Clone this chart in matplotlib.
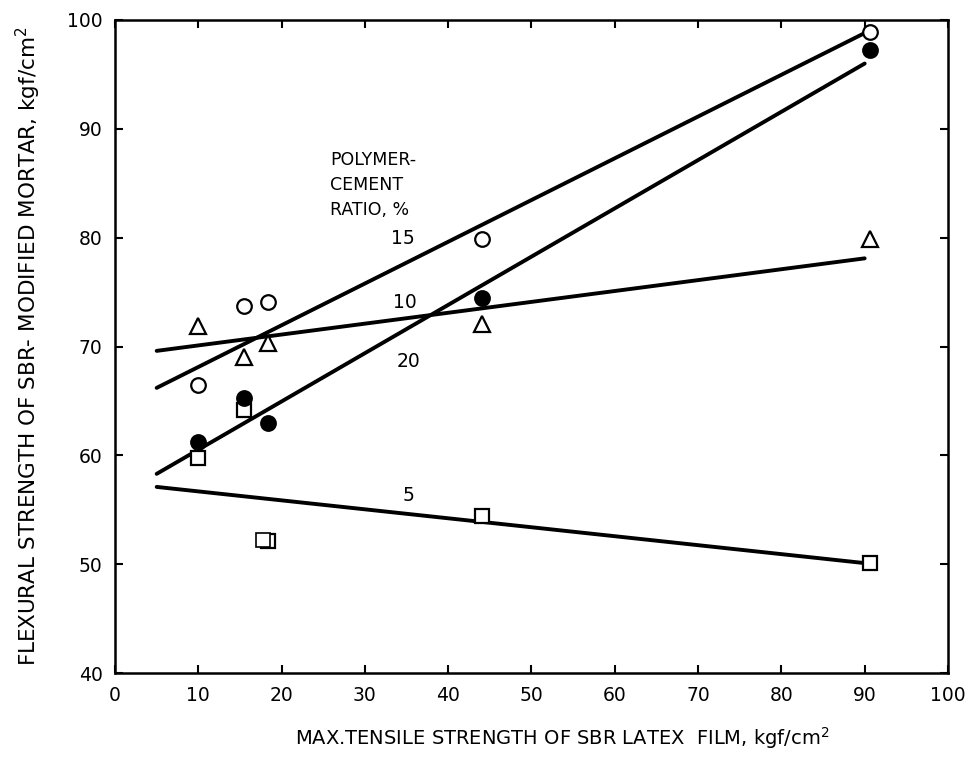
import matplotlib
matplotlib.use('Agg')
import matplotlib.pyplot as plt

tensile = [10, 15.5, 18.4, 44, 90.6]
flex_5 = [59.8, 64.2, 52.1, 54.4, 50.1]
flex_10 = [71.9, 69.0, 70.3, 72.1, 79.9]
flex_15 = [66.5, 73.7, 74.1, 79.9, 98.9]
flex_20 = [61.2, 65.3, 63.0, 74.5, 97.2]
# zweiter Punkt bei ~18 fuer 5 %
sq_extra_x = [17.8]
sq_extra_y = [52.2]

# Regressionsgeraden: Start- und Endwerte
line_x = [5, 90]
line_5 = [57.1, 50.1]
line_10 = [69.6, 78.1]
line_15 = [66.2, 98.8]
line_20 = [58.3, 96.0]

ratio_labels = ['5', '10', '15', '20']
label_x = [35.2, 34.8, 34.6, 35.2]
label_y = [56.3, 74.0, 79.9, 68.6]

fig = plt.figure(figsize=(9.69, 7.69), dpi=100)
ax = fig.add_axes([0.1187, 0.1248, 0.8596, 0.8492])

lw = 2.8
for ly in [line_5, line_10, line_15, line_20]:
    ax.plot(line_x, ly, color='black', lw=lw, solid_capstyle='round', zorder=2)

ax.plot(tensile, flex_5, ls='none', marker='s', ms=9.5, mfc='white', mec='black', mew=1.6, zorder=3)
ax.plot(sq_extra_x, sq_extra_y, ls='none', marker='s', ms=9.5, mfc='white', mec='black', mew=1.2, zorder=3)
ax.plot(tensile, flex_10, ls='none', marker='^', ms=11, mfc='white', mec='black', mew=1.6, zorder=3)
ax.plot(tensile, flex_15, ls='none', marker='o', ms=10.5, mfc='white', mec='black', mew=1.6, zorder=3)
ax.plot(tensile, flex_20, ls='none', marker='o', ms=10.5, mfc='black', mec='black', mew=1.6, zorder=4)

for lab, x, y in zip(ratio_labels, label_x, label_y):
    ax.text(x, y, lab, fontsize=13.5, ha='center', va='center')

ax.text(25.8, 84.8, 'POLYMER-\nCEMENT\nRATIO, %', fontsize=12.5, ha='left', va='center',
        linespacing=1.5)

ax.set_xlim(0, 100)
ax.set_ylim(40, 100)
ax.set_xticks(range(0, 101, 10))
ax.set_yticks(range(40, 101, 10))
ax.tick_params(direction='in', length=6, width=1.5, top=True, right=True,
               labelsize=13.5, pad=9)
for s in ax.spines.values():
    s.set_linewidth(1.8)

fig.text(0.58, 0.04, 'MAX.TENSILE STRENGTH OF SBR LATEX  FILM, kgf/cm$^2$',
         fontsize=14, ha='center', va='center')
fig.text(0.029, 0.55, 'FLEXURAL STRENGTH OF SBR- MODIFIED MORTAR, kgf/cm$^2$',
         fontsize=15.5, ha='center', va='center', rotation=90)

plt.savefig('out.png', dpi=100)
